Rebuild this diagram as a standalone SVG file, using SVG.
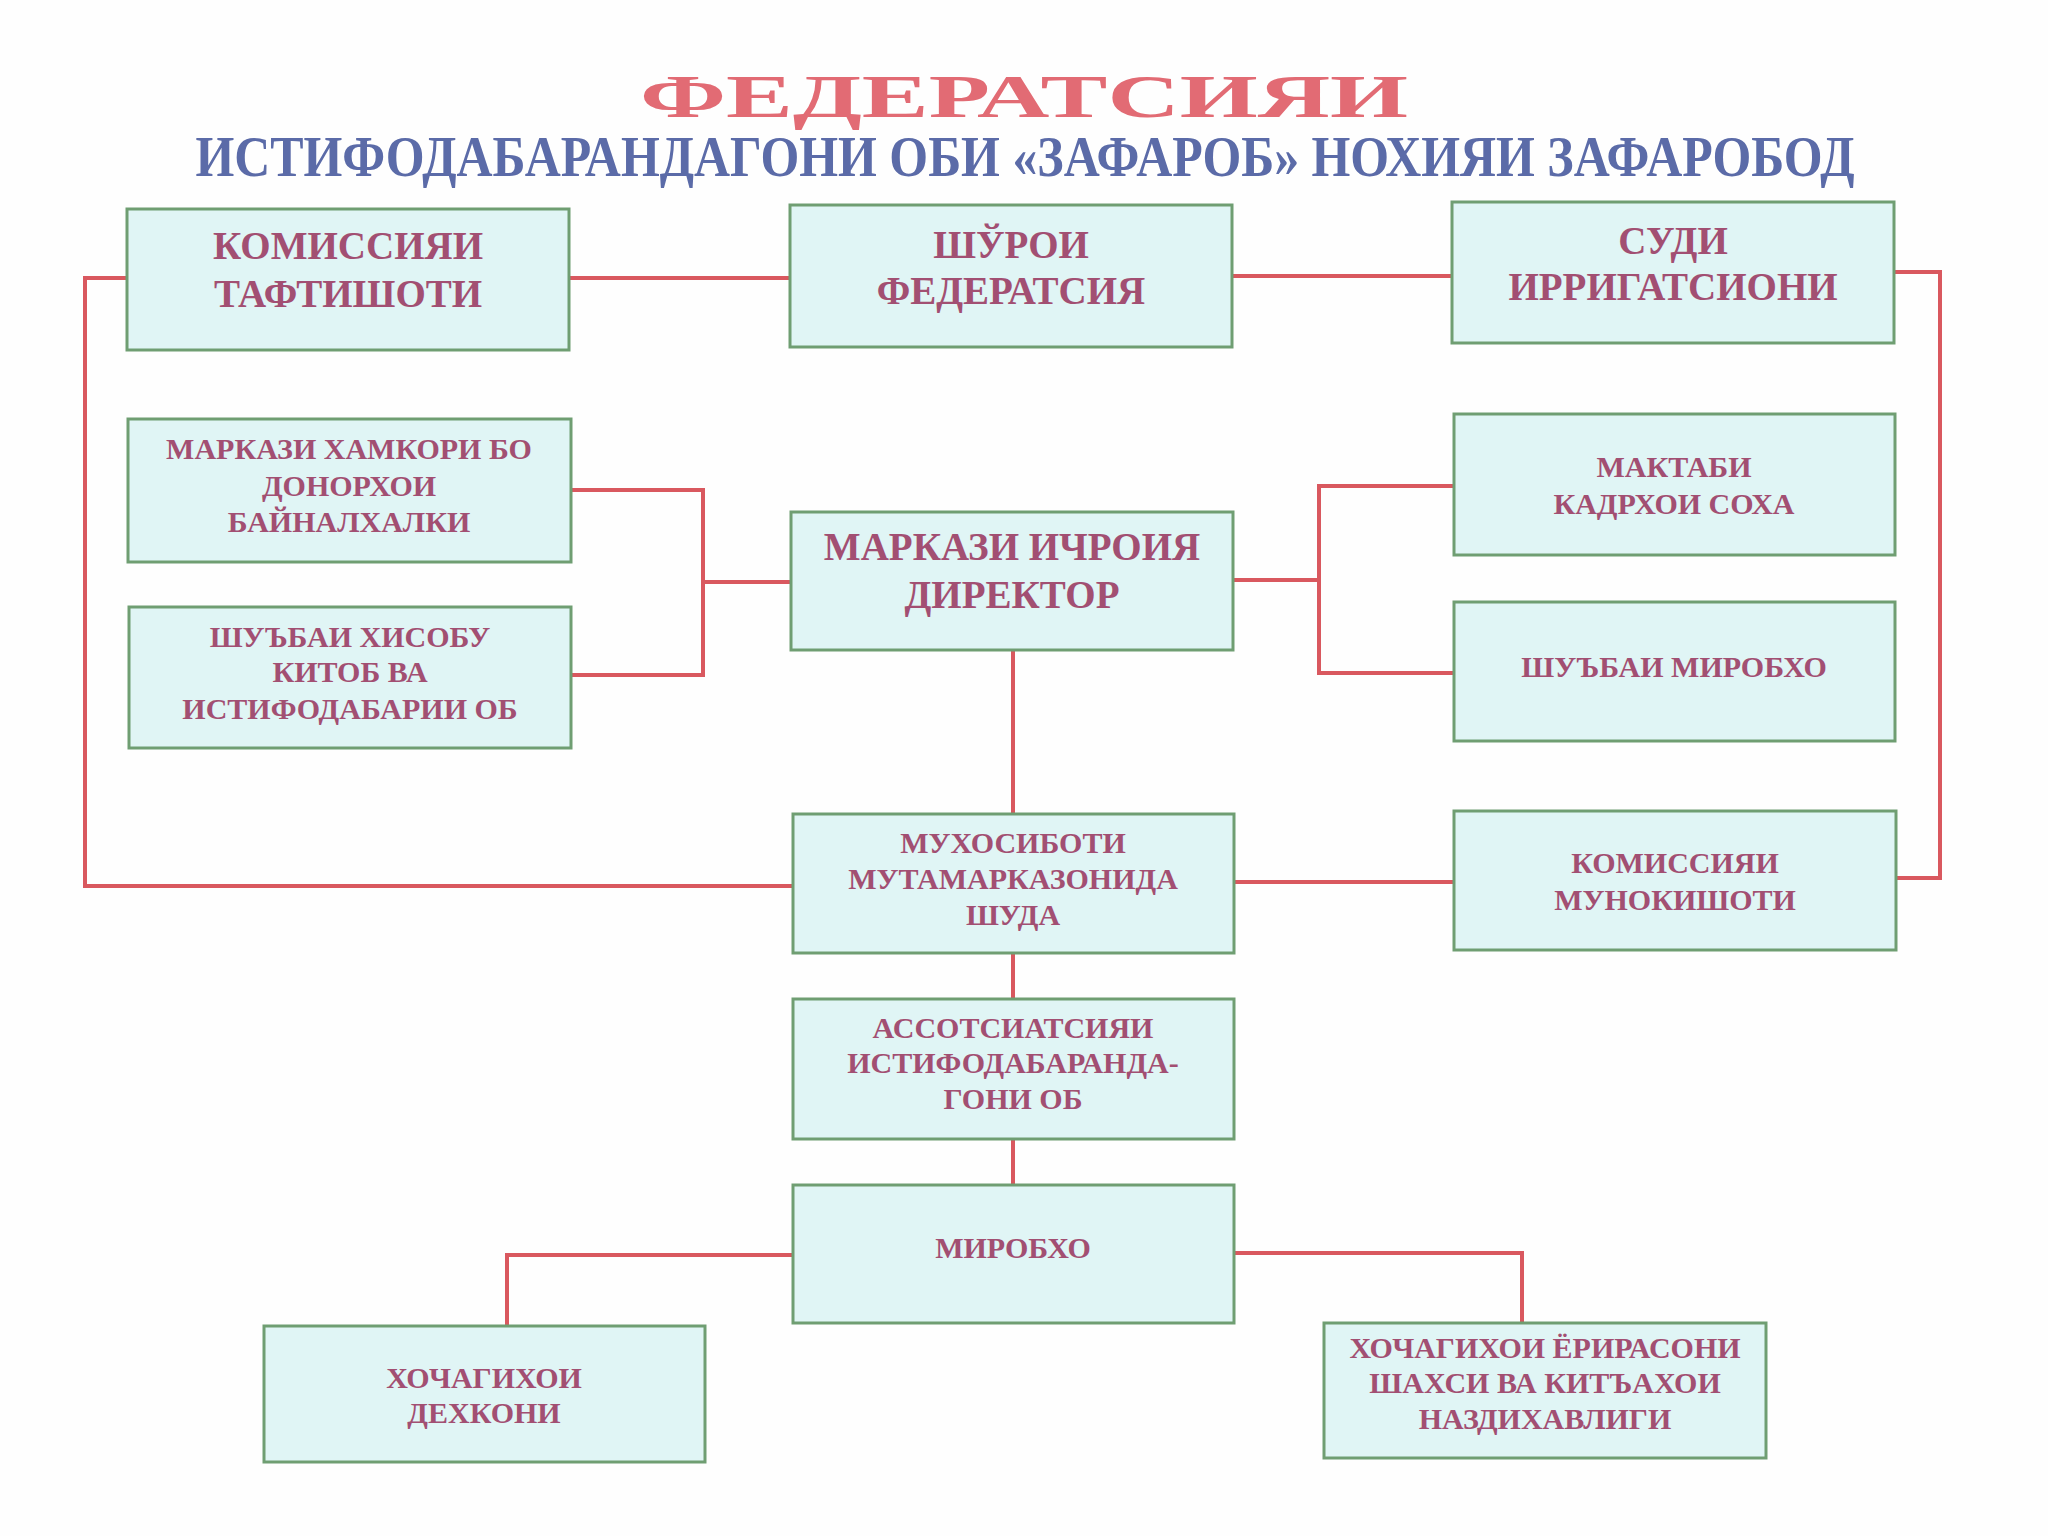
<svg xmlns="http://www.w3.org/2000/svg" width="2048" height="1536" viewBox="0 0 2048 1536">
<style>
.box{fill:#e0f5f5;stroke:#6f9e72;stroke-width:3}
.big{font-family:"Liberation Serif",serif;font-weight:bold;font-size:39px;fill:#a24f72;text-anchor:middle}
.sm{font-family:"Liberation Serif",serif;font-weight:bold;font-size:30px;fill:#a24f72;text-anchor:middle}
.con{fill:none;stroke:#d9585f;stroke-width:4}
</style>
<rect width="2048" height="1536" fill="#fefefe"/>
<g id="title">
<text x="1024" y="117" font-family="Liberation Serif,serif" font-weight="bold" font-size="62" fill="#e26b74" text-anchor="middle" textLength="768" lengthAdjust="spacingAndGlyphs">ФЕДЕРАТСИЯИ</text>
<text x="1025" y="176" font-family="Liberation Serif,serif" font-weight="bold" font-size="58" fill="#5b6ba8" text-anchor="middle" textLength="1659" lengthAdjust="spacingAndGlyphs">ИСТИФОДАБАРАНДАГОНИ ОБИ «ЗАФАРОБ» НОХИЯИ ЗАФАРОБОД</text>
</g>
<g id="connectors">
<polyline class="con" points="127,278 85,278 85,886 793,886"/>
<line class="con" x1="569" y1="278" x2="790" y2="278"/>
<line class="con" x1="1232" y1="276" x2="1452" y2="276"/>
<polyline class="con" points="1894,272 1940,272 1940,878 1896,878"/>
<polyline class="con" points="571,490 703,490 703,675 571,675"/>
<line class="con" x1="703" y1="582" x2="791" y2="582"/>
<line class="con" x1="1233" y1="580" x2="1319" y2="580"/>
<polyline class="con" points="1454,486 1319,486 1319,673 1454,673"/>
<line class="con" x1="1013" y1="650" x2="1013" y2="814"/>
<line class="con" x1="1234" y1="882" x2="1454" y2="882"/>
<line class="con" x1="1013" y1="953" x2="1013" y2="999"/>
<line class="con" x1="1013" y1="1139" x2="1013" y2="1185"/>
<polyline class="con" points="793,1255 507,1255 507,1326"/>
<polyline class="con" points="1234,1253 1522,1253 1522,1323"/>
</g>
<g id="n1"><rect class="box" x="127" y="209" width="442" height="141"/>
<text class="big" x="348" y="259">КОМИССИЯИ</text><text class="big" x="348" y="307">ТАФТИШОТИ</text></g>
<g id="n2"><rect class="box" x="790" y="205" width="442" height="142"/>
<text class="big" x="1011" y="258">ШЎРОИ</text><text class="big" x="1011" y="304">ФЕДЕРАТСИЯ</text></g>
<g id="n3"><rect class="box" x="1452" y="202" width="442" height="141"/>
<text class="big" x="1673" y="254">СУДИ</text><text class="big" x="1673" y="300">ИРРИГАТСИОНИ</text></g>
<g id="n4"><rect class="box" x="128" y="419" width="443" height="143"/>
<text class="sm" x="349" y="459">МАРКАЗИ ХАМКОРИ БО</text><text class="sm" x="349" y="496">ДОНОРХОИ</text><text class="sm" x="349" y="532">БАЙНАЛХАЛКИ</text></g>
<g id="n5"><rect class="box" x="129" y="607" width="442" height="141"/>
<text class="sm" x="350" y="647">ШУЪБАИ ХИСОБУ</text><text class="sm" x="350" y="682">КИТОБ ВА</text><text class="sm" x="350" y="719">ИСТИФОДАБАРИИ ОБ</text></g>
<g id="n6"><rect class="box" x="791" y="512" width="442" height="138"/>
<text class="big" x="1012" y="560">МАРКАЗИ ИЧРОИЯ</text><text class="big" x="1012" y="608">ДИРЕКТОР</text></g>
<g id="n7"><rect class="box" x="1454" y="414" width="441" height="141"/>
<text class="sm" x="1674" y="477">МАКТАБИ</text><text class="sm" x="1674" y="514">КАДРХОИ СОХА</text></g>
<g id="n8"><rect class="box" x="1454" y="602" width="441" height="139"/>
<text class="sm" x="1674" y="677">ШУЪБАИ МИРОБХО</text></g>
<g id="n9"><rect class="box" x="793" y="814" width="441" height="139"/>
<text class="sm" x="1013" y="853">МУХОСИБОТИ</text><text class="sm" x="1013" y="889">МУТАМАРКАЗОНИДА</text><text class="sm" x="1013" y="925">ШУДА</text></g>
<g id="n10"><rect class="box" x="1454" y="811" width="442" height="139"/>
<text class="sm" x="1675" y="873">КОМИССИЯИ</text><text class="sm" x="1675" y="910">МУНОКИШОТИ</text></g>
<g id="n11"><rect class="box" x="793" y="999" width="441" height="140"/>
<text class="sm" x="1013" y="1038">АССОТСИАТСИЯИ</text><text class="sm" x="1013" y="1073">ИСТИФОДАБАРАНДА-</text><text class="sm" x="1013" y="1109">ГОНИ ОБ</text></g>
<g id="n12"><rect class="box" x="793" y="1185" width="441" height="138"/>
<text class="sm" x="1013" y="1258">МИРОБХО</text></g>
<g id="n13"><rect class="box" x="264" y="1326" width="441" height="136"/>
<text class="sm" x="484" y="1388">ХОЧАГИХОИ</text><text class="sm" x="484" y="1423">ДЕХКОНИ</text></g>
<g id="n14"><rect class="box" x="1324" y="1323" width="442" height="135"/>
<text class="sm" x="1545" y="1358">ХОЧАГИХОИ ЁРИРАСОНИ</text><text class="sm" x="1545" y="1393">ШАХСИ ВА КИТЪАХОИ</text><text class="sm" x="1545" y="1429">НАЗДИХАВЛИГИ</text></g>
</svg>
